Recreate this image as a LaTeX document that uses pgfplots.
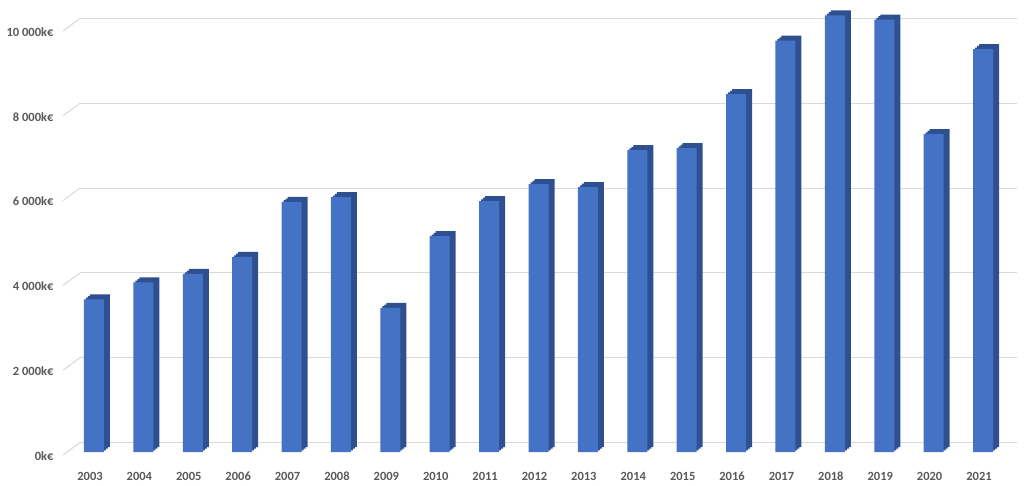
\documentclass[border=0pt]{standalone}
\usepackage{pgfplots}
\pgfplotsset{compat=1.18}
\usepackage{fontspec}
\setmainfont{Carlito}
\definecolor{front}{HTML}{4472C4}
\definecolor{side}{HTML}{2F5090}
\definecolor{gridc}{HTML}{D9D9D9}
\definecolor{txt}{HTML}{595959}
\begin{document}
\begin{tikzpicture}
\useasboundingbox (-80pt,-33pt) rectangle (944pt,452pt);
\begin{axis}[
  scale only axis, width=937pt, height=444pt,
  xmin=-0.2834, xmax=18.688, ymin=0, ymax=10472,
  axis line style={draw=none}, major tick style={draw=none},
  ybar, bar width=20pt,
  xtick={0,...,18},
  xticklabels={2003,2004,2005,2006,2007,2008,2009,2010,2011,2012,2013,2014,2015,2016,2017,2018,2019,2020,2021},
  ytick={0,2000,4000,6000,8000,10000},
  yticklabels={0k€,2 000k€,4 000k€,6 000k€,8 000k€,10 000k€},
  ymajorgrids, major grid style={draw=gridc, line width=1pt, yshift=9.5pt},
  clip=false,
  tick label style={font=\bfseries\fontsize{12.5}{14}\selectfont, text=txt},
  yticklabel style={xshift=-23pt, yshift=-4pt},
  xticklabel style={xshift=-4pt, yshift=-12pt},
]
\pgfplotsinvokeforeach{0,2000,4000,6000,8000,10000}{
  \draw[gridc, line width=1pt] ([xshift=-17pt,yshift=-3pt]axis cs:-0.2834,#1) -- ([yshift=9.5pt]axis cs:-0.2834,#1);
}
\pgfplotstableread{
i v
0 3600
1 4000
2 4200
3 4600
4 5900
5 6010
6 3400
7 5090
8 5920
9 6320
10 6250
11 7120
12 7170
13 8440
14 9700
15 10300
16 10200
17 7500
18 9500
}\data
\addplot[fill=side, draw=none, bar shift=0pt, xshift=6pt, yshift=5pt] table[x=i,y=v]{\data};
\addplot[fill=side, draw=none, bar shift=0pt, xshift=4pt, yshift=3.33pt] table[x=i,y=v]{\data};
\addplot[fill=side, draw=none, bar shift=0pt, xshift=2pt, yshift=1.67pt] table[x=i,y=v]{\data};
\addplot[fill=front, draw=none, bar shift=0pt] table[x=i,y=v]{\data};
\end{axis}
\end{tikzpicture}
\end{document}
